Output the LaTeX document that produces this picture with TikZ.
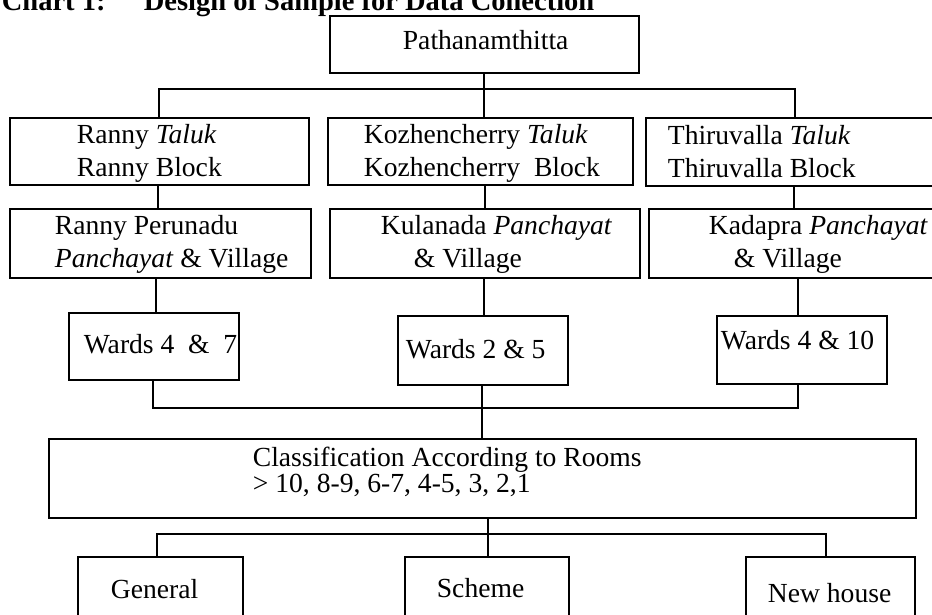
\documentclass[tikz,border=0pt]{standalone}
\usepackage{fontspec}
\setmainfont{Liberation Serif}
\begin{document}
\begin{tikzpicture}[x=1pt,y=-1pt,
  line width=1.8pt,
  box/.style={draw, rectangle, inner sep=0pt, anchor=north west},
  txt/.style={anchor=base west, inner sep=0pt, font=\fontsize{27.6}{33}\selectfont},
  ttl/.style={anchor=base west, inner sep=0pt, font=\fontsize{28.5}{34}\selectfont\bfseries},
  link/.style={line width=1.8pt}]
\useasboundingbox (0,0) rectangle (932,615);
\fill[white] (0,0) rectangle (932,615);

% heading, cut by the top edge
\node[ttl] (title) at (1,11) {\makebox[142pt][l]{Chart 1:}Design of Sample for Data Collection};

% district
\node[box, minimum width=309pt, minimum height=57pt] (pat) at (329,15) {};
\node[txt] (patT) at (402,50) {Pathanamthitta};

% taluks and blocks
\node[box, minimum width=299pt, minimum height=67pt] (r2a) at (9,117) {};
\node[box, minimum width=305pt, minimum height=67pt] (r2b) at (327,117) {};
\node[box, minimum width=295pt, minimum height=68pt] (r2c) at (645,117) {};
\node[txt] (r2aT1) at (76,144) {Ranny \textit{Taluk}};
\node[txt] (r2aT2) at (76,177) {Ranny Block};
\node[txt] (r2bT1) at (363,144) {Kozhencherry \textit{Taluk}};
\node[txt] (r2bT2) at (363,177) {Kozhencherry\ \ Block};
\node[txt] (r2cT1) at (667,145) {Thiruvalla \textit{Taluk}};
\node[txt] (r2cT2) at (667,178) {Thiruvalla Block};

% panchayats and villages
\node[box, minimum width=301pt, minimum height=69pt] (r3a) at (9,208) {};
\node[box, minimum width=310pt, minimum height=69pt] (r3b) at (329,208) {};
\node[box, minimum width=292pt, minimum height=69pt] (r3c) at (648,208) {};
\node[txt] (r3aT1) at (54,234) {Ranny Perunadu};
\node[txt] (r3aT2) at (54,267) {\textit{Panchayat} \& Village};
\node[txt] (r3bT1) at (380,234) {Kulanada \textit{Panchayat}};
\node[txt] (r3bT2) at (413,267) {\& Village};
\node[txt] (r3cT1) at (708,234) {Kadapra \textit{Panchayat}};
\node[txt] (r3cT2) at (733,267) {\& Village};

% wards
\node[box, minimum width=170pt, minimum height=67pt] (w1) at (68,312) {};
\node[box, minimum width=170pt, minimum height=69pt] (w2) at (397,315) {};
\node[box, minimum width=170pt, minimum height=68pt] (w3) at (716,315) {};
\node[txt] (w1T) at (83,353) {Wards 4 \ \& \ 7};
\node[txt] (w2T) at (405,358) {Wards 2 \& 5};
\node[txt] (w3T) at (720,349) {Wards 4 \& 10};

% classification
\node[box, minimum width=867pt, minimum height=79pt] (cls) at (48,438) {};
\node[txt] (clsT1) at (252,466) {Classification According to Rooms};
\node[txt] (clsT2) at (252,492) {\textgreater\ 10, 8-9, 6-7, 4-5, 3, 2,1};

% house types
\node[box, minimum width=165pt, minimum height=84pt] (b1) at (77,556) {};
\node[box, minimum width=164pt, minimum height=84pt] (b2) at (404,556) {};
\node[box, minimum width=169pt, minimum height=84pt] (b3) at (745,556) {};
\node[txt] (b1T) at (110,598) {General};
\node[txt] (b2T) at (436,597) {Scheme};
\node[txt] (b3T) at (767,602) {New house};

% bus points
\coordinate (h1m) at (484,89);
\coordinate (h1l) at (159,89);
\coordinate (h1r) at (795,89);
\coordinate (v2a) at (158,0);
\coordinate (v2b) at (485,0);
\coordinate (v2c) at (794,0);
\coordinate (v3a) at (156,0);
\coordinate (v3b) at (484,0);
\coordinate (v3c) at (798,0);
\coordinate (h2l) at (153,408);
\coordinate (h2m) at (482,408);
\coordinate (h2r) at (798,408);
\coordinate (h3l) at (157,534);
\coordinate (h3m) at (488,534);
\coordinate (h3r) at (826,534);

% district to taluks
\draw[link] (pat.south -| h1m) -- (h1m);
\draw[link] (h1l |- r2a.north) -- (h1l) -- (h1r) -- (h1r |- r2c.north);
\draw[link] (h1m) -- (h1m |- r2b.north);

% taluks to panchayats
\draw[link] (v2a |- r2a.south) -- (v2a |- r3a.north);
\draw[link] (v2b |- r2b.south) -- (v2b |- r3b.north);
\draw[link] (v2c |- r2c.south) -- (v2c |- r3c.north);

% panchayats to wards
\draw[link] (v3a |- r3a.south) -- (v3a |- w1.north);
\draw[link] (v3b |- r3b.south) -- (v3b |- w2.north);
\draw[link] (v3c |- r3c.south) -- (v3c |- w3.north);

% wards to classification
\draw[link] (h2l |- w1.south) -- (h2l) -- (h2r) -- (h2r |- w3.south);
\draw[link] (h2m |- w2.south) -- (h2m |- cls.north);

% classification to house types
\draw[link] (h3m |- cls.south) -- (h3m |- b2.north);
\draw[link] (h3l |- b1.north) -- (h3l) -- (h3r) -- (h3r |- b3.north);
\end{tikzpicture}
\end{document}
